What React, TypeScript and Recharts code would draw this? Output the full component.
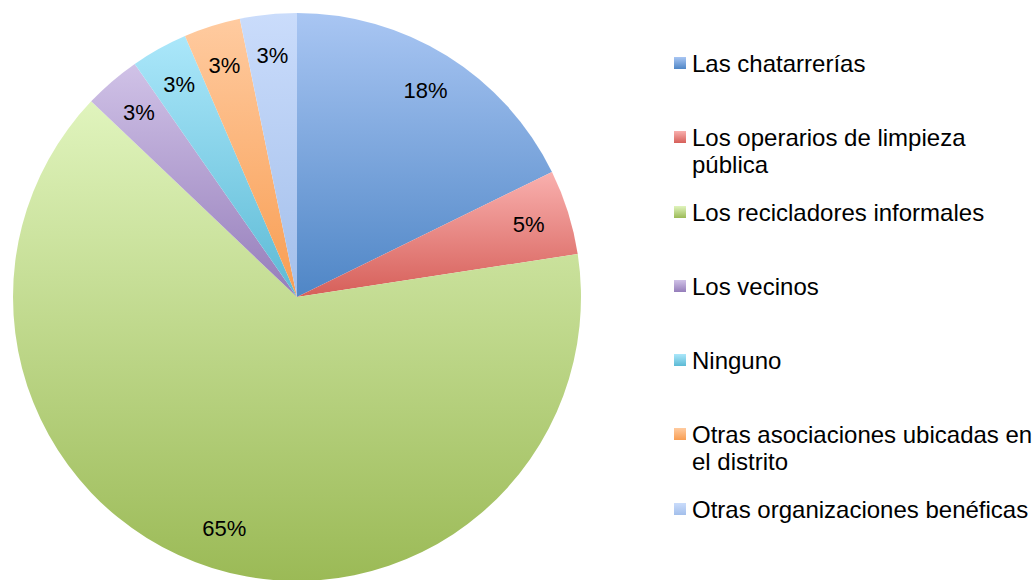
import { Cell, Legend, Pie, PieChart } from "recharts";

const categories = [
  "Las chatarrerías",
  "Los operarios de limpieza pública",
  "Los recicladores informales",
  "Los vecinos",
  "Ninguno",
  "Otras asociaciones ubicadas en el distrito",
  "Otras organizaciones benéficas",
];
const counts = [11, 3, 40, 2, 2, 2, 2];

const topColors = ["#a9c6f3", "#f9b0ae", "#e0f4bd", "#d0c2e7", "#abe7fa", "#ffcba0", "#cadcfb"];
const bottomColors = ["#4f86c6", "#d65f59", "#9bba56", "#957dba", "#5cbad5", "#f89d52", "#a3bfeb"];

const data = categories.map((name, i) => ({ name, value: counts[i] }));

const RAD = Math.PI / 180;
const FONT = "'Liberation Sans', Arial, sans-serif";

const renderLabel = (props: any) => {
  const { cx, cy, midAngle, outerRadius, percent } = props;
  const r = outerRadius * 0.855;
  const x = cx + r * Math.cos(-midAngle * RAD);
  const y = cy + r * Math.sin(-midAngle * RAD);
  return (
    <text
      x={x}
      y={y}
      textAnchor="middle"
      dominantBaseline="central"
      fill="#000"
      fontSize={22}
      fontFamily={FONT}
    >
      {`${Math.round(percent * 100)}%`}
    </text>
  );
};

const renderLegend = () => (
  <div style={{ fontFamily: FONT, fontSize: 24, color: "#000" }}>
    {categories.map((name, i) => (
      <div key={name} style={{ height: 74.3, display: "flex", alignItems: "flex-start" }}>
        <div
          style={{
            width: 12,
            height: 12,
            marginTop: 6,
            marginRight: 6,
            flexShrink: 0,
            background: `linear-gradient(${topColors[i]}, ${bottomColors[i]})`,
          }}
        />
        <div style={{ width: 342, lineHeight: "26.5px" }}>{name}</div>
      </div>
    ))}
  </div>
);

export default function App() {
  return (
    <>
      <style>{`body{margin:0;overflow:hidden;background:#fff}
        .recharts-pie-sectors{filter:drop-shadow(-3px 5px 4px rgba(0,0,0,0.35))}`}</style>
      <PieChart width={1034} height={580} margin={{ top: 0, right: 0, bottom: 0, left: 0 }}>
        <defs>
          {categories.map((_, i) => (
            <linearGradient key={i} id={`g${i}`} x1="0" y1="0" x2="0" y2="1">
              <stop offset="0%" stopColor={topColors[i]} />
              <stop offset="100%" stopColor={bottomColors[i]} />
            </linearGradient>
          ))}
        </defs>
        <Pie
          data={data}
          dataKey="value"
          nameKey="name"
          cx={297}
          cy={297}
          outerRadius={284}
          startAngle={90}
          endAngle={-270}
          stroke="none"
          label={renderLabel}
          labelLine={false}
          isAnimationActive={false}
        >
          {data.map((d, i) => (
            <Cell key={d.name} fill={`url(#g${i})`} />
          ))}
        </Pie>
        <Legend
          content={renderLegend}
          layout="vertical"
          wrapperStyle={{ position: "absolute", left: 674, top: 51, width: 360 }}
        />
      </PieChart>
    </>
  );
}
